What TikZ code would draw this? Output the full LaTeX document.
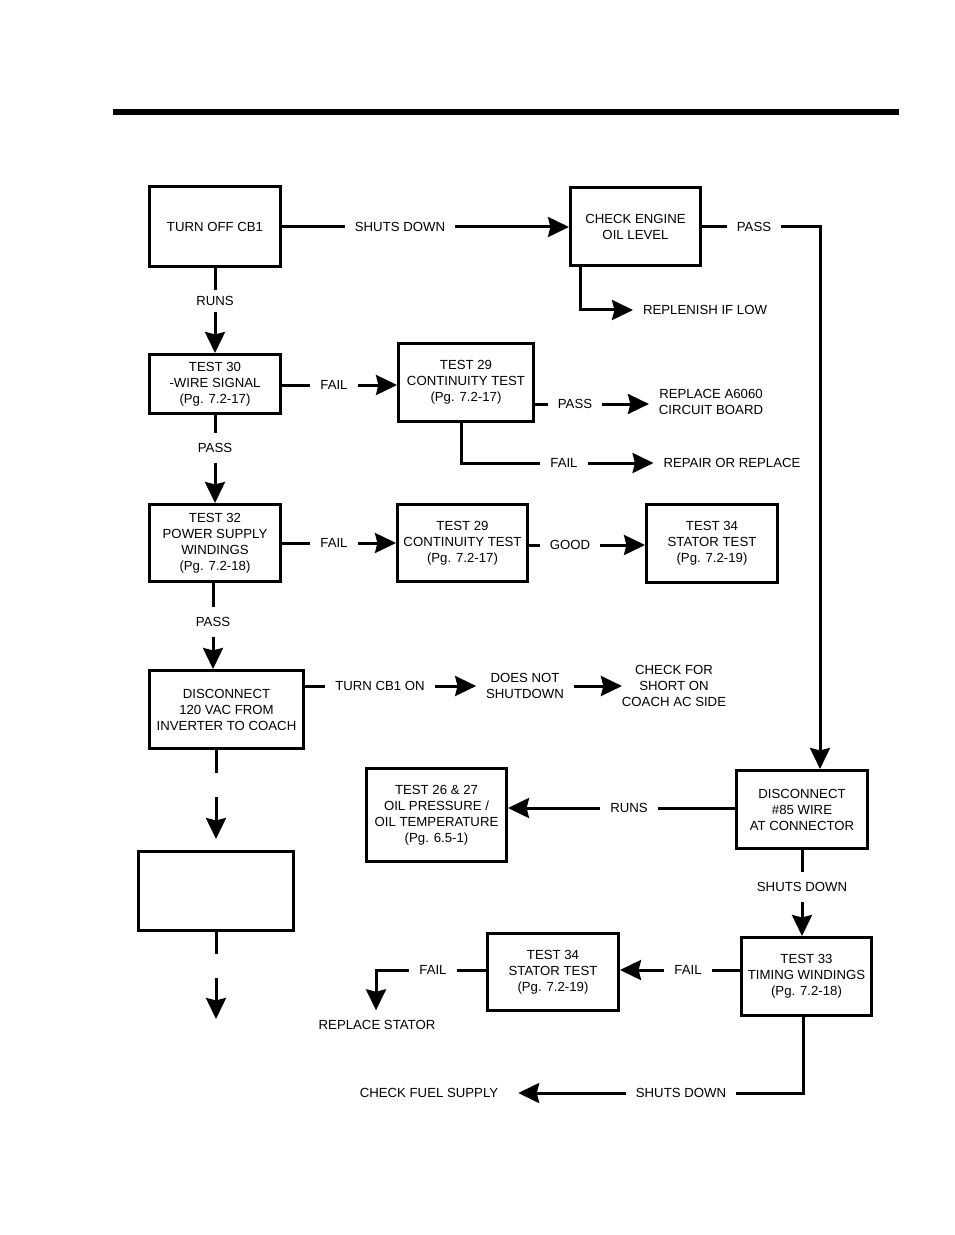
\documentclass[tikz,border=0pt]{standalone}
\usepackage{fontspec}
\setmainfont{Liberation Sans}
\usetikzlibrary{arrows.meta}
\begin{document}
\begin{tikzpicture}[x=0.5pt,y=-0.5pt,line width=1.5pt,
  >={Stealth[length=10.5pt,width=10pt,inset=1.2pt]},
  every node/.style={font=\fontsize{6.6}{8}\selectfont,align=center},
  box/.style={draw,line width=1.5pt,inner sep=0pt},
  lbl/.style={inner sep=0pt,outer sep=5pt}]
\useasboundingbox (0,0) rectangle (954,1235);
\draw[line width=3pt] (113,112) -- (899,112);
% boxes
\node[box,minimum width=65.5pt,minimum height=40pt] (cb) at (215,227) {TURN OFF CB1};
\node[box,minimum width=65pt,minimum height=39pt] (oil) at (635.5,227) {CHECK ENGINE\\OIL LEVEL};
\node[box,minimum width=65.5pt,minimum height=29.5pt] (t30) at (215,384) {TEST 30\\-WIRE SIGNAL\\(Pg. 7.2-17)};
\node[box,minimum width=67.5pt,minimum height=39pt] (t29a) at (466,382.5) {TEST 29\\CONTINUITY TEST\\(Pg. 7.2-17)};
\node[box,minimum width=65.5pt,minimum height=38.5pt] (t32) at (215,543) {TEST 32\\POWER SUPPLY\\WINDINGS\\(Pg. 7.2-18)};
\node[box,minimum width=65pt,minimum height=38.5pt] (t29b) at (462.5,543) {TEST 29\\CONTINUITY TEST\\(Pg. 7.2-17)};
\node[box,minimum width=65.5pt,minimum height=39pt] (t34a) at (712,543.5) {TEST 34\\STATOR TEST\\(Pg. 7.2-19)};
\node[box,minimum width=77pt,minimum height=39pt] (disc) at (226.5,709.5) {DISCONNECT\\120 VAC FROM\\INVERTER TO COACH};
\node[box,minimum width=77.5pt,minimum height=39.5pt] (blank) at (216,890.5) {};
\node[box,minimum width=70pt,minimum height=46.5pt] (t26) at (436.5,815) {TEST 26 \& 27\\OIL PRESSURE /\\OIL TEMPERATURE\\(Pg. 6.5-1)};
\node[box,minimum width=65.5pt,minimum height=39pt] (w85) at (802,809.5) {DISCONNECT\\\#85 WIRE\\AT CONNECTOR};
\node[box,minimum width=65.5pt,minimum height=38.5pt] (t34b) at (553,972) {TEST 34\\STATOR TEST\\(Pg. 7.2-19)};
\node[box,minimum width=65pt,minimum height=39pt] (t33) at (806.5,976.5) {TEST 33\\TIMING WINDINGS\\(Pg. 7.2-18)};
% labels
\node[lbl] (sd1) at (400,227) {SHUTS DOWN};
\node[lbl] (pass1) at (754,227) {PASS};
\node[lbl] (repl) at (705,310) {REPLENISH IF LOW};
\node[lbl,outer sep=3pt] (runs1) at (215,301) {RUNS};
\node[lbl] (fail1) at (334,385) {FAIL};
\node[lbl] (pass2) at (575,404) {PASS};
\node[lbl] (board) at (711,402) {REPLACE A6060\\CIRCUIT BOARD};
\node[lbl] (fail2) at (564,463) {FAIL};
\node[lbl] (fix) at (732,463) {REPAIR OR REPLACE};
\node[lbl] (pass3) at (215,448) {PASS};
\node[lbl] (fail3) at (334,543) {FAIL};
\node[lbl] (good) at (570,545) {GOOD};
\node[lbl] (pass4) at (213,622) {PASS};
\node[lbl] (cbon) at (380,686) {TURN CB1 ON};
\node[lbl] (dns) at (525,686) {DOES NOT\\SHUTDOWN};
\node[lbl,outer sep=0pt] (short) at (674,686) {CHECK FOR\\SHORT ON\\COACH AC SIDE};
\node[lbl] (runs2) at (629,808) {RUNS};
\node[lbl] (sd2) at (802,887) {SHUTS DOWN};
\node[lbl] (fail4) at (688,970) {FAIL};
\node[lbl] (fail5) at (433,970) {FAIL};
\node[lbl] (stator) at (377,1025) {REPLACE STATOR};
\node[lbl] (sd3) at (681,1093) {SHUTS DOWN};
\node[lbl,outer sep=10pt] (fuel) at (429,1093) {CHECK FUEL SUPPLY};
% corners
\coordinate (c1) at (820,227);
\coordinate (c2) at (580,310);
\coordinate (c3) at (461,463);
\coordinate (c4) at (376,970);
\coordinate (c5) at (803,1093);
\coordinate (s1) at (216,773);
\coordinate (s2) at (216,797);
\coordinate (s3) at (216,839);
\coordinate (s4) at (216,954);
\coordinate (s5) at (216,978);
\coordinate (s6) at (216,1019);
% connectors
\draw (cb.south -| runs1) -- (runs1);
\draw[->] (runs1) -- (runs1 |- t30.north);
\draw (cb) -- (sd1);
\draw[->] (sd1) -- (oil);
\draw (oil) -- (pass1);
\draw[->] (pass1) -- (c1) -- (c1 |- w85.north);
\draw[->] (oil.south -| c2) -- (c2) -- (repl.west);
\draw (t30.east |- fail1) -- (fail1);
\draw[->] (fail1) -- (fail1 -| t29a.west);
\draw (t29a.east |- pass2) -- (pass2);
\draw[->] (pass2) -- (pass2 -| board.west);
\draw (t29a.south -| c3) -- (c3) -- (fail2);
\draw[->] (fail2) -- (fix);
\draw (t30) -- (pass3);
\draw[->] (pass3) -- (t32);
\draw (t32) -- (fail3);
\draw[->] (fail3) -- (t29b);
\draw (t29b.east |- good) -- (good);
\draw[->] (good) -- (good -| t34a.west);
\draw (t32.south -| pass4) -- (pass4);
\draw[->] (pass4) -- (pass4 |- disc.north);
\draw (disc.east |- cbon) -- (cbon);
\draw[->] (cbon) -- (dns);
\draw[->] (dns) -- (short.west);
\draw (disc.south -| s1) -- (s1);
\draw[->] (s2) -- (s3);
\draw (blank.south -| s4) -- (s4);
\draw[->] (s5) -- (s6);
\draw (w85.west |- runs2) -- (runs2);
\draw[->] (runs2) -- (runs2 -| t26.east);
\draw (w85) -- (sd2);
\draw[->] (sd2) -- (sd2 |- t33.north);
\draw (t33.west |- fail4) -- (fail4);
\draw[->] (fail4) -- (fail4 -| t34b.east);
\draw (t34b.west |- fail5) -- (fail5);
\draw[->] (fail5) -- (c4) -- (c4 |- stator.north);
\draw (t33.south -| c5) -- (c5) -- (sd3);
\draw[->] (sd3) -- (fuel);
\end{tikzpicture}
\end{document}
